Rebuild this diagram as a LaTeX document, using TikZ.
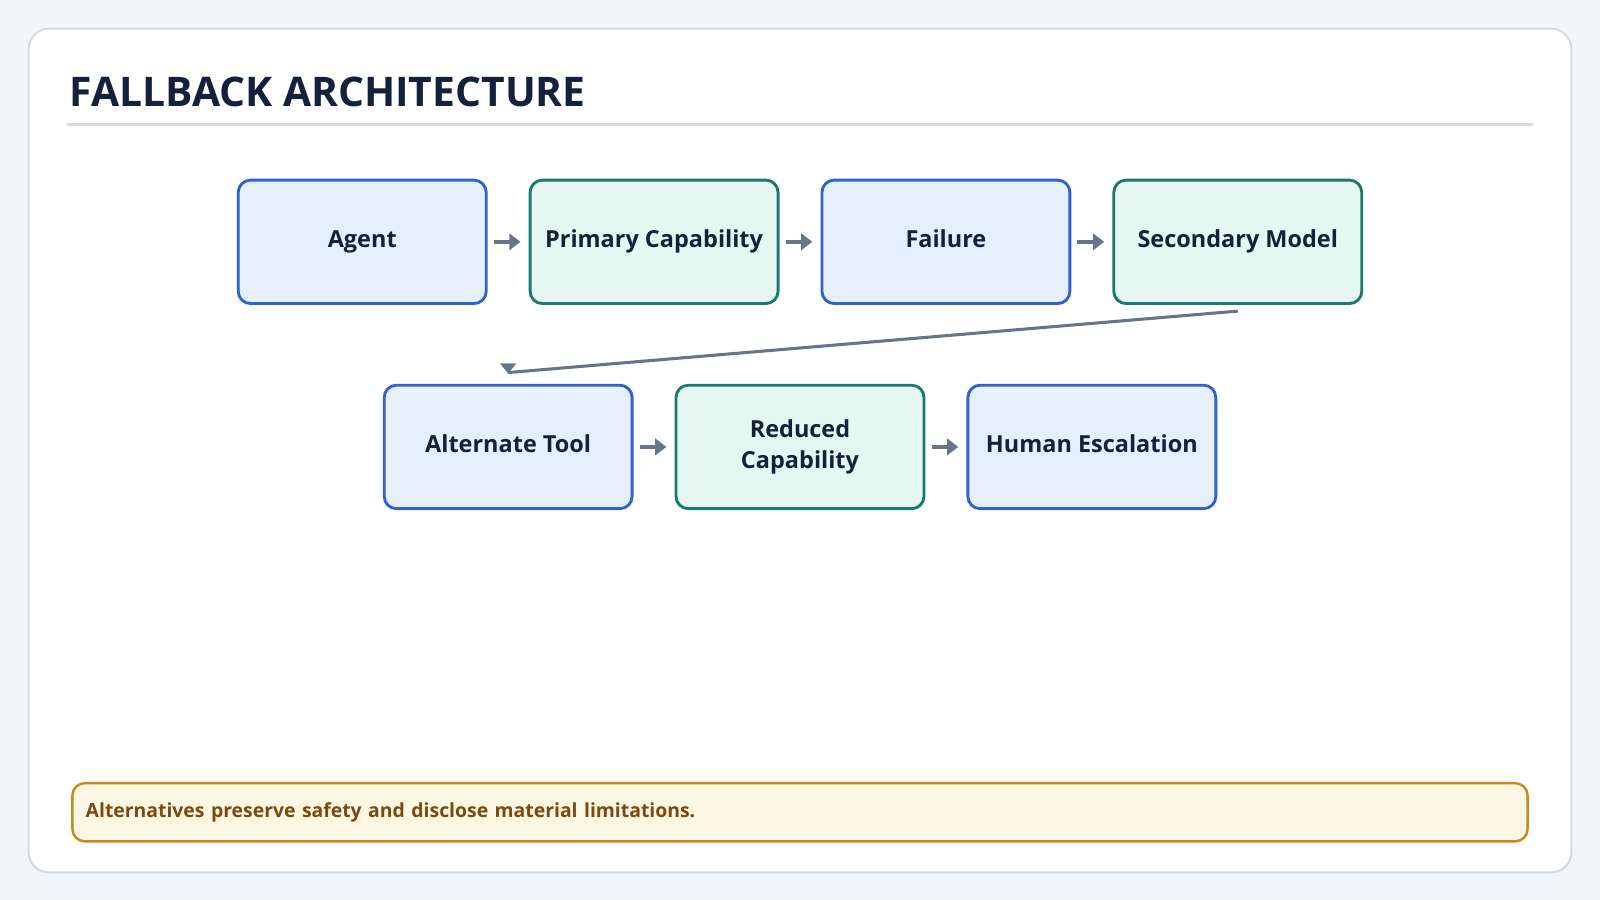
\documentclass[tikz,border=0pt]{standalone}
\usepackage{fontspec}
\setmainfont{Open Sans}
\usetikzlibrary{arrows.meta}
\definecolor{bg}{HTML}{F3F6F9}
\definecolor{cardb}{HTML}{D5DBE3}
\definecolor{bb}{HTML}{2F62D0}
\definecolor{bf}{HTML}{E6EFFD}
\definecolor{gb}{HTML}{1B7A6A}
\definecolor{gf}{HTML}{E6F6F0}
\definecolor{ar}{HTML}{66758A}
\definecolor{tt}{HTML}{14213D}
\definecolor{nb}{HTML}{C98A1C}
\definecolor{nf}{HTML}{FDF6E3}
\definecolor{nt}{HTML}{7A4A10}
\begin{document}
\begin{tikzpicture}[x=1pt,y=-1pt,
 box/.style={rounded corners=12pt,line width=2.8pt,minimum width=243pt,minimum height=121pt,align=center,font=\fontsize{23}{30}\selectfont\bfseries,text=tt},
 blue/.style={box,draw=bb,fill=bf},
 green/.style={box,draw=gb,fill=gf},
 arr/.style={draw=ar,line width=3.5pt,-{Triangle[length=11pt,width=16pt]}}]
\useasboundingbox (0,0) rectangle (1568,882);
\fill[bg] (0,0) rectangle (1568,882);
\draw[cardb,fill=white,line width=2pt,rounded corners=20pt] (28,28) rectangle (1540,855);
\node[anchor=base west,font=\fontsize{40}{48}\selectfont\bfseries,text=tt,inner sep=0pt] (title) at (68,104) {FALLBACK ARCHITECTURE};
\draw[cardb,line width=2pt] (66,122) -- (1502,122);
\node[blue,text height=17pt,text depth=6pt] (a) at (355,237) {Agent};
\node[green,text height=17pt,text depth=6pt] (p) at (641,237) {Primary Capability};
\node[blue,text height=17pt,text depth=6pt] (f) at (927,237) {Failure};
\node[green,text height=17pt,text depth=6pt] (s) at (1213,237) {Secondary Model};
\node[blue,text height=17pt,text depth=6pt] (t) at (498,438) {Alternate Tool};
\node[green] (r) at (784,438) {Reduced\\Capability};
\node[blue,text height=17pt,text depth=6pt] (h) at (1070,438) {Human Escalation};
\foreach \u/\v in {a/p,p/f,f/s,t/r,r/h}
  \draw[arr] ([xshift=6pt]\u.east) -- ([xshift=-8pt]\v.east -| \v.west);
\coordinate (e) at ([yshift=11pt]t.north);
\draw[ar,line width=3pt] ([yshift=-6pt]s.south) -- (e);
\fill[ar] ([yshift=-1pt]e) -- ++(-8,-10) -- ++(16,0) -- cycle;
\node[draw=nb,fill=nf,line width=2.4pt,rounded corners=12pt,minimum width=1426pt,minimum height=57pt,text width=1400pt,align=left,font=\fontsize{19}{24}\selectfont\bfseries,text=nt] (n) at (784,796) {Alternatives preserve safety and disclose material limitations.};
\end{tikzpicture}
\end{document}
